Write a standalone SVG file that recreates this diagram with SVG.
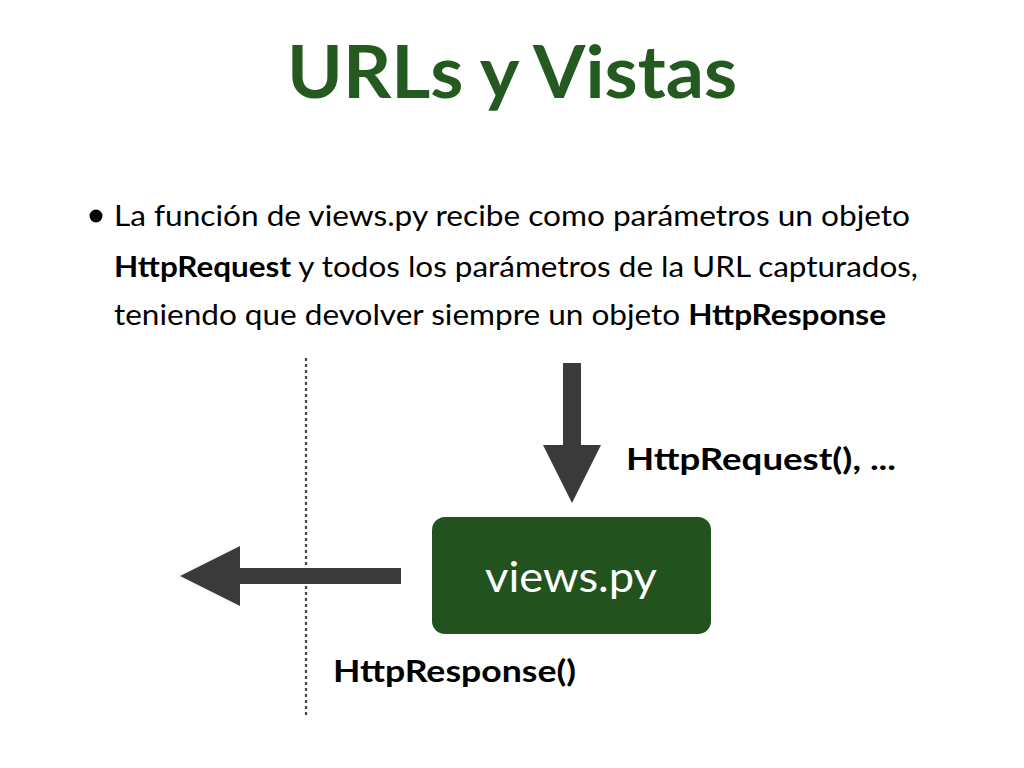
<svg xmlns="http://www.w3.org/2000/svg" width="1024" height="768" viewBox="0 0 1024 768">
<style>
.t{font-family:Lato,"Open Sans","Liberation Sans",sans-serif;fill:#000}
.b{font-weight:bold}
.arr{fill:#3a3a3a}
</style>
<rect width="1024" height="768" fill="#fff"/>
<text x="512" y="98" text-anchor="middle" class="t b" font-size="72" style="fill:#245a1f" textLength="450" lengthAdjust="spacingAndGlyphs">URLs y Vistas</text>
<circle cx="96" cy="216" r="6.5" fill="#000"/>
<text x="114" y="226" class="t" font-size="28" textLength="796" lengthAdjust="spacingAndGlyphs">La función de views.py recibe como parámetros un objeto</text>
<text x="114" y="277" class="t" font-size="28" textLength="804" lengthAdjust="spacingAndGlyphs"><tspan class="b">HttpRequest</tspan> y todos los parámetros de la URL capturados,</text>
<text x="114" y="325" class="t" font-size="28" textLength="772" lengthAdjust="spacingAndGlyphs">teniendo que devolver siempre un objeto <tspan class="b">HttpResponse</tspan></text>
<g id="connectors">
<line x1="306" y1="358" x2="306" y2="716" stroke="#444" stroke-width="2.2" stroke-dasharray="3,3"/>
<path class="arr" d="M563 363 H581 V445 H601 L572 503 L543 445 H563 Z"/>
<path class="arr" d="M401 568 V584 H240 V606 L180 576 L240 546 V568 Z"/>
</g>
<g id="views">
<rect x="432" y="517" width="279" height="117" rx="13" fill="#22521e"/>
<text x="571" y="592" text-anchor="middle" class="t" font-size="42" style="fill:#fff" textLength="172" lengthAdjust="spacingAndGlyphs">views.py</text>
</g>
<text x="626" y="470" class="t b" font-size="30" textLength="270" lengthAdjust="spacingAndGlyphs">HttpRequest(), ...</text>
<text x="333" y="682" class="t b" font-size="30" textLength="243" lengthAdjust="spacingAndGlyphs">HttpResponse()</text>
</svg>
